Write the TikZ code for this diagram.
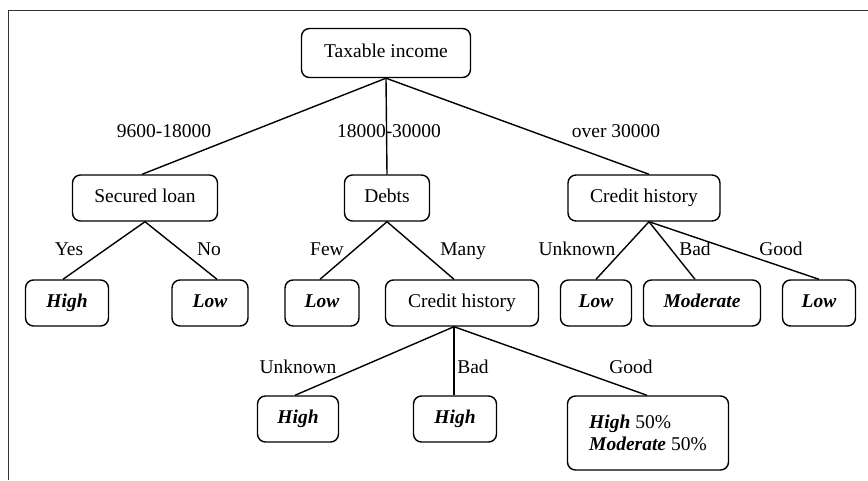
\documentclass[tikz,border=0pt]{standalone}
\usepackage{fontspec}
\setmainfont{Liberation Serif}
\usetikzlibrary{calc}
\begin{document}
\begin{tikzpicture}[x=1pt,y=-1pt,
  box/.style={draw, line width=1.4pt, rounded corners=8pt, inner sep=0pt, minimum height=46pt, font=\fontsize{19.5}{22}\selectfont, text height=13pt, text depth=4pt},
  leaf/.style={box, font=\fontsize{19.5}{22}\selectfont\bfseries\itshape},
  edge/.style={line width=1.4pt},
  lab/.style={inner sep=0pt, font=\fontsize{19.5}{22}\selectfont, text height=13pt, text depth=4pt},
  frameline/.style={line width=0.9pt, draw=black!80}]
\useasboundingbox (0,0) rectangle (868,480);
\coordinate (fbl) at (8,480);
\coordinate (ftl) at (8,10);
\coordinate (ftr) at (868,10);
\draw[frameline] (fbl) -- (ftl) -- (ftr);

\node[box, minimum width=169pt, minimum height=49pt] (root) at (386,53) {Taxable income};
\node[box, minimum width=145pt] (sl) at (145,198) {Secured loan};
\node[box, minimum width=85pt] (debts) at (387,198) {Debts};
\node[box, minimum width=152pt] (chr) at (644,198) {Credit history};

\node[leaf, minimum width=83pt] (h1) at (67,303) {High};
\node[leaf, minimum width=76pt] (l1) at (210,303) {Low};
\node[leaf, minimum width=74pt] (l2) at (322,303) {Low};
\node[box, minimum width=153pt] (chm) at (462,303) {Credit history};
\node[leaf, minimum width=71pt] (l3) at (596,303) {Low};
\node[leaf, minimum width=117pt] (mod) at (702,303) {Moderate};
\node[leaf, minimum width=73pt] (l4) at (819,303) {Low};

\node[leaf, minimum width=81pt] (h2) at (298,419) {High};
\node[leaf, minimum width=83pt] (h3) at (455,419) {High};
\node[box, minimum width=161pt, minimum height=74pt, text height=, text depth=, align=left] (mix) at (648,433) {\textbf{\textit{High}} 50\%\\\textbf{\textit{Moderate}} 50\%};

\draw[edge] (root.south) -- ([xshift=-3pt]sl.north);
\draw[edge] (root.south) -- (debts.north);
\draw[edge] (root.south) -- ([xshift=5pt]chr.north);

\draw[edge] (sl.south) -- ([xshift=-4pt]h1.north);
\draw[edge] (sl.south) -- ([xshift=7pt]l1.north);
\draw[edge] (debts.south) -- ([xshift=-2pt]l2.north);
\draw[edge] (debts.south) -- ([xshift=-8pt]chm.north);
\draw[edge] ([xshift=5pt]chr.south) -- (l3.north);
\draw[edge] ([xshift=5pt]chr.south) -- ([xshift=-7pt]mod.north);
\draw[edge] ([xshift=5pt]chr.south) -- (l4.north);

\draw[edge] ([xshift=-8pt]chm.south) -- ([xshift=-3pt]h2.north);
\draw[edge] ([xshift=-8pt]chm.south) -- ([xshift=-1pt]h3.north);
\draw[edge] ([xshift=-8pt]chm.south) -- ([xshift=-1pt]mix.north);

\node[lab] (e1) at (164,133) {9600-18000};
\node[lab] (e2) at (389,133) {18000-30000};
\node[lab] (e3) at (616,133) {over 30000};
\node[lab] (e4) at (69,251) {Yes};
\node[lab] (e5) at (209,251) {No};
\node[lab] (e6) at (327,251) {Few};
\node[lab] (e7) at (463,251) {Many};
\node[lab] (e8) at (577,251) {Unknown};
\node[lab] (e9) at (695,251) {Bad};
\node[lab] (e10) at (781,251) {Good};
\node[lab] (e11) at (298,369) {Unknown};
\node[lab] (e12) at (473,369) {Bad};
\node[lab] (e13) at (631,369) {Good};
\end{tikzpicture}
\end{document}
